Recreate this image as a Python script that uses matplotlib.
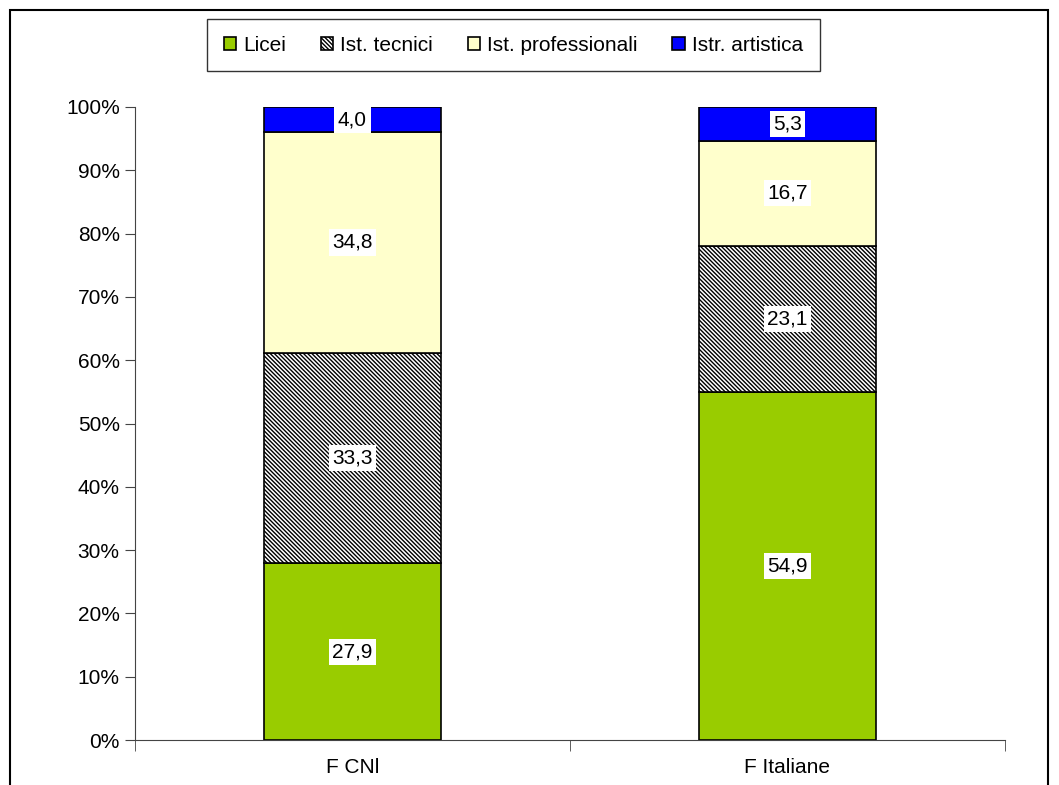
import numpy as np
import matplotlib.pyplot as plt
import matplotlib.patches as mpatches

plt.rcParams['font.family'] = ['Liberation Sans', 'DejaVu Sans']
plt.rcParams['hatch.linewidth'] = 1.0
plt.rcParams['hatch.color'] = '#555555'

categories = ["F CNl", "F Italiane"]
series = ["Licei", "Ist. tecnici", "Ist. professionali", "Istr. artistica"]
licei = [27.9, 54.9]
tecnici = [33.3, 23.1]
professionali = [34.8, 16.7]
artistica = [4.0, 5.3]
values = [licei, tecnici, professionali, artistica]
colors = ["#99CC00", "white", "#FFFFCC", "#0000FF"]
hatches = [None, "\\" * 8, None, None]

fs = 15

fig = plt.figure(figsize=(10.59, 7.85), dpi=100)
ax = fig.add_axes([135 / 1059, 1 - 740 / 785, 870 / 1059, 633 / 785])

x = np.arange(len(categories))
bottom = np.zeros(len(categories))
handles = []
for name, vals, col, h in zip(series, values, colors, hatches):
    vals = np.array(vals)
    bars = ax.bar(x, vals, width=0.407, bottom=bottom, color=col, edgecolor="black",
                  linewidth=1.2, hatch=h, label=name)
    for xi, b, v in zip(x, bottom, vals):
        ax.text(xi, b + v / 2, ("%.1f" % v).replace(".", ","), ha="center", va="center",
                fontsize=fs, bbox=dict(facecolor="white", edgecolor="none", pad=2.5))
    bottom += vals
    handles.append(bars)

ax.set_xlim(-0.5, 1.5)
ax.set_ylim(0, 100)
ax.set_yticks(np.arange(0, 101, 10))
ax.set_yticklabels(["%d%%" % v for v in range(0, 101, 10)])
ax.set_xticks(x)
ax.set_xticklabels(categories)
ax.set_xticks([-0.5, 0.5, 1.5], minor=True)
ax.tick_params(axis="x", which="major", length=0, pad=13, labelsize=fs)
ax.tick_params(axis="x", which="minor", length=8, direction="out", color="#444444")
ax.tick_params(axis="y", length=7, direction="out", labelsize=fs, pad=4, color="#444444")
for s in ["top", "right"]:
    ax.spines[s].set_visible(False)
ax.spines["left"].set_color("#444444")
ax.spines["bottom"].set_color("#444444")

leg = fig.legend(handles=handles, labels=series, loc="upper left",
                 bbox_to_anchor=(207 / 1059, 1 - 19 / 785), ncol=4, fontsize=fs,
                 frameon=True, fancybox=False, edgecolor="black", handlelength=0.6,
                 handleheight=0.6, handletextpad=0.35, columnspacing=1.65,
                 borderpad=0.8, borderaxespad=0)
leg.get_frame().set_linewidth(1.0)

# outer chart border
border = mpatches.Rectangle((10 / 1059, -0.05), 1038 / 1059, 1.05 - 10 / 785,
                            transform=fig.transFigure, fill=False,
                            edgecolor="black", linewidth=1.5)
fig.patches.append(border)

fig.savefig("out.png", dpi=100)
